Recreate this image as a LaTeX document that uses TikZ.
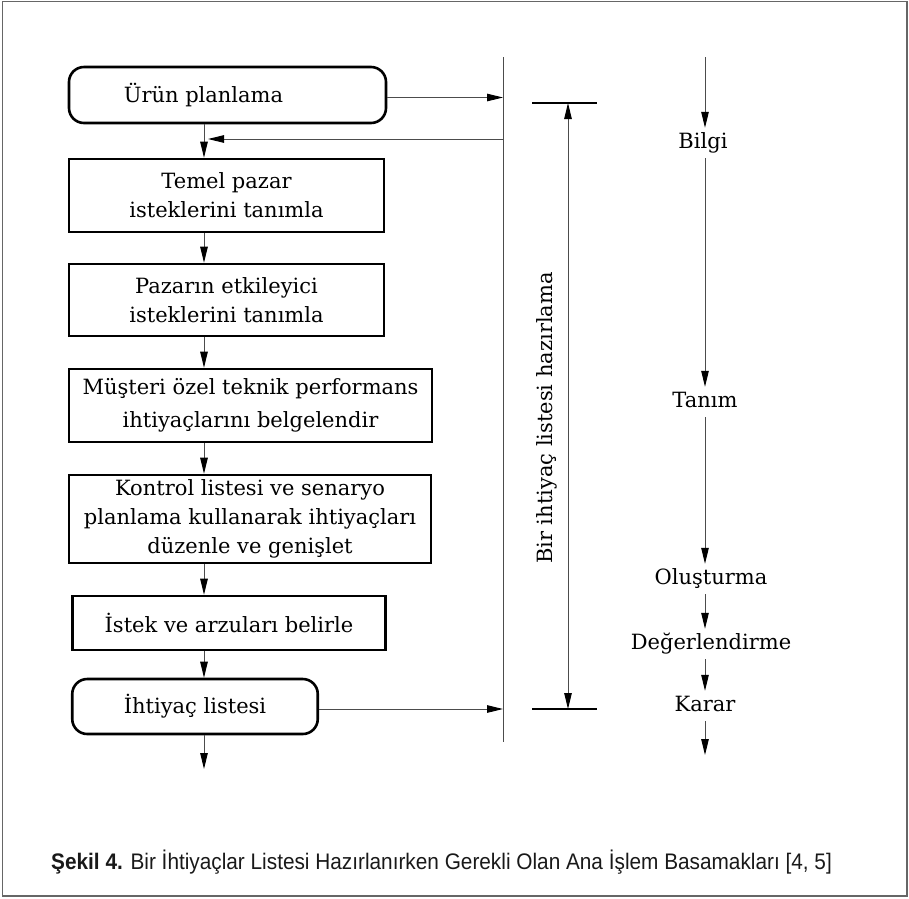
\documentclass[tikz,border=0pt]{standalone}
\usepackage{fontspec}
\setmainfont{DejaVu Serif}
\newfontfamily\capfont{Liberation Sans}
\usetikzlibrary{arrows.meta}
\newcommand{\flowfont}{\fontsize{21pt}{29pt}\selectfont}
\definecolor{linegray}{gray}{0.3}
\tikzset{
  frame/.style={draw=gray!80!black, line width=1.6pt},
  fbox/.style={draw=black, line width=2.6pt, inner sep=0pt, align=center, font=\flowfont},
  rbox/.style={fbox, rounded corners=15pt},
  tip/.style={},
  arr/.style={-{Triangle[length=16pt,width=7.5pt,black]}, line width=1pt, draw=linegray},
  dimarr/.style={{Triangle[length=16pt,width=7.5pt,black]}-{Triangle[length=16pt,width=7.5pt,black]}, line width=1pt, draw=linegray},
  bar/.style={draw=linegray, line width=1pt},
  tick/.style={draw=black, line width=1.6pt},
  lab/.style={font=\flowfont, inner sep=0pt, minimum height=30pt, text height=15pt, text depth=5pt},
}
\begin{document}
\begin{tikzpicture}[x=1pt,y=-1pt]
\useasboundingbox (0,0) rectangle (909,898);
\draw[frame] (2.5,1.5) rectangle (907,896);

% flow axis and bar
\coordinate (fx) at (204,0);
\coordinate (bartop) at (503,57);
\coordinate (barbot) at (503,742);
\coordinate (fb) at (503,139);
\coordinate (flowend) at (204,769);

% boxes
\node[rbox, minimum width=317pt, minimum height=56pt] (urun) at (227.5,95) {Ürün planlama\hspace{48pt}};
\node[fbox, minimum width=315pt, minimum height=73pt] (temel) at (226.5,195.5) {Temel pazar\\isteklerini tanımla};
\node[fbox, minimum width=315pt, minimum height=72pt] (pazar) at (226.5,300) {Pazarın etkileyici\\isteklerini tanımla};
\node[fbox, minimum width=363pt, minimum height=73pt, font=\fontsize{21pt}{33pt}\selectfont] (musteri) at (250.5,405.5) {Müşteri özel teknik performans\\ihtiyaçlarını belgelendir};
\node[fbox, minimum width=362pt, minimum height=88pt] (kontrol) at (250,519) {Kontrol listesi ve senaryo\\planlama kullanarak ihtiyaçları\\düzenle ve genişlet};
\node[fbox, minimum width=313.5pt, minimum height=54pt] (istek) at (229,623) {İstek ve arzuları belirle};
\node[rbox, minimum width=245.5pt, minimum height=55pt] (ihtiyac) at (195,706.5) {İhtiyaç listesi};

% flow arrows
\draw[arr] (urun.south -| fx) -- (temel.north -| fx);
\draw[arr] (temel.south -| fx) -- (pazar.north -| fx);
\draw[arr] (pazar.south -| fx) -- (musteri.north -| fx);
\draw[arr] (musteri.south -| fx) -- (kontrol.north -| fx);
\draw[arr] (kontrol.south -| fx) -- (istek.north -| fx);
\draw[arr] (istek.south -| fx) -- (ihtiyac.north -| fx);
\draw[arr] (ihtiyac.south -| fx) -- (flowend);

% bar and side arrows
\draw[bar] (bartop) -- (barbot);
\draw[arr] ([yshift=-2.5pt]urun.east) -- ([yshift=-2.5pt]urun.east -| bartop);
\draw[arr, shorten >=4pt] (fb) -- (fb -| fx);
\draw[arr] ([yshift=-2.5pt]ihtiyac.east) -- ([yshift=-2.5pt]ihtiyac.east -| bartop);

% dimension
\coordinate (t1l) at (532,103);
\coordinate (t1r) at (597,103);
\coordinate (t2l) at (532,709);
\coordinate (t2r) at (597,709);
\coordinate (d1) at (568,103);
\coordinate (d2) at (568,709);
\draw[tick] (t1l) -- (t1r);
\draw[tick] (t2l) -- (t2r);
\draw[dimarr] (d1) -- (d2);
\node[font=\flowfont, rotate=90, inner sep=0pt] (dimlab) at (547,418) {Bir ihtiyaç listesi hazırlama};

% right column
\coordinate (rtop) at (705,57);
\coordinate (rbot) at (705,755);
\node[lab] (bilgi) at (703,143) {Bilgi};
\node[lab] (tanim) at (705,402) {Tanım};
\node[lab] (olus) at (711,579) {Oluşturma};
\node[lab] (deger) at (711,644) {Değerlendirme};
\node[lab] (karar) at (705,706) {Karar};
\draw[arr] (rtop) -- (bilgi.north -| rtop);
\draw[arr] (bilgi.south -| rtop) -- (tanim.north -| rtop);
\draw[arr] (tanim.south -| rtop) -- (olus.north -| rtop);
\draw[arr] (olus.south -| rtop) -- (deger.north -| rtop);
\draw[arr] (deger.south -| rtop) -- (karar.north -| rtop);
\draw[arr] (karar.south -| rtop) -- (rbot);

% caption
\node[anchor=west, inner sep=0pt, text=black!90, font=\capfont\fontsize{22.5pt}{26pt}\selectfont] (caption) at (51,862) {\scalebox{0.924}[1]{\textbf{Şekil 4.} Bir İhtiyaçlar Listesi Hazırlanırken Gerekli Olan Ana İşlem Basamakları [4, 5]}};
\end{tikzpicture}
\end{document}
